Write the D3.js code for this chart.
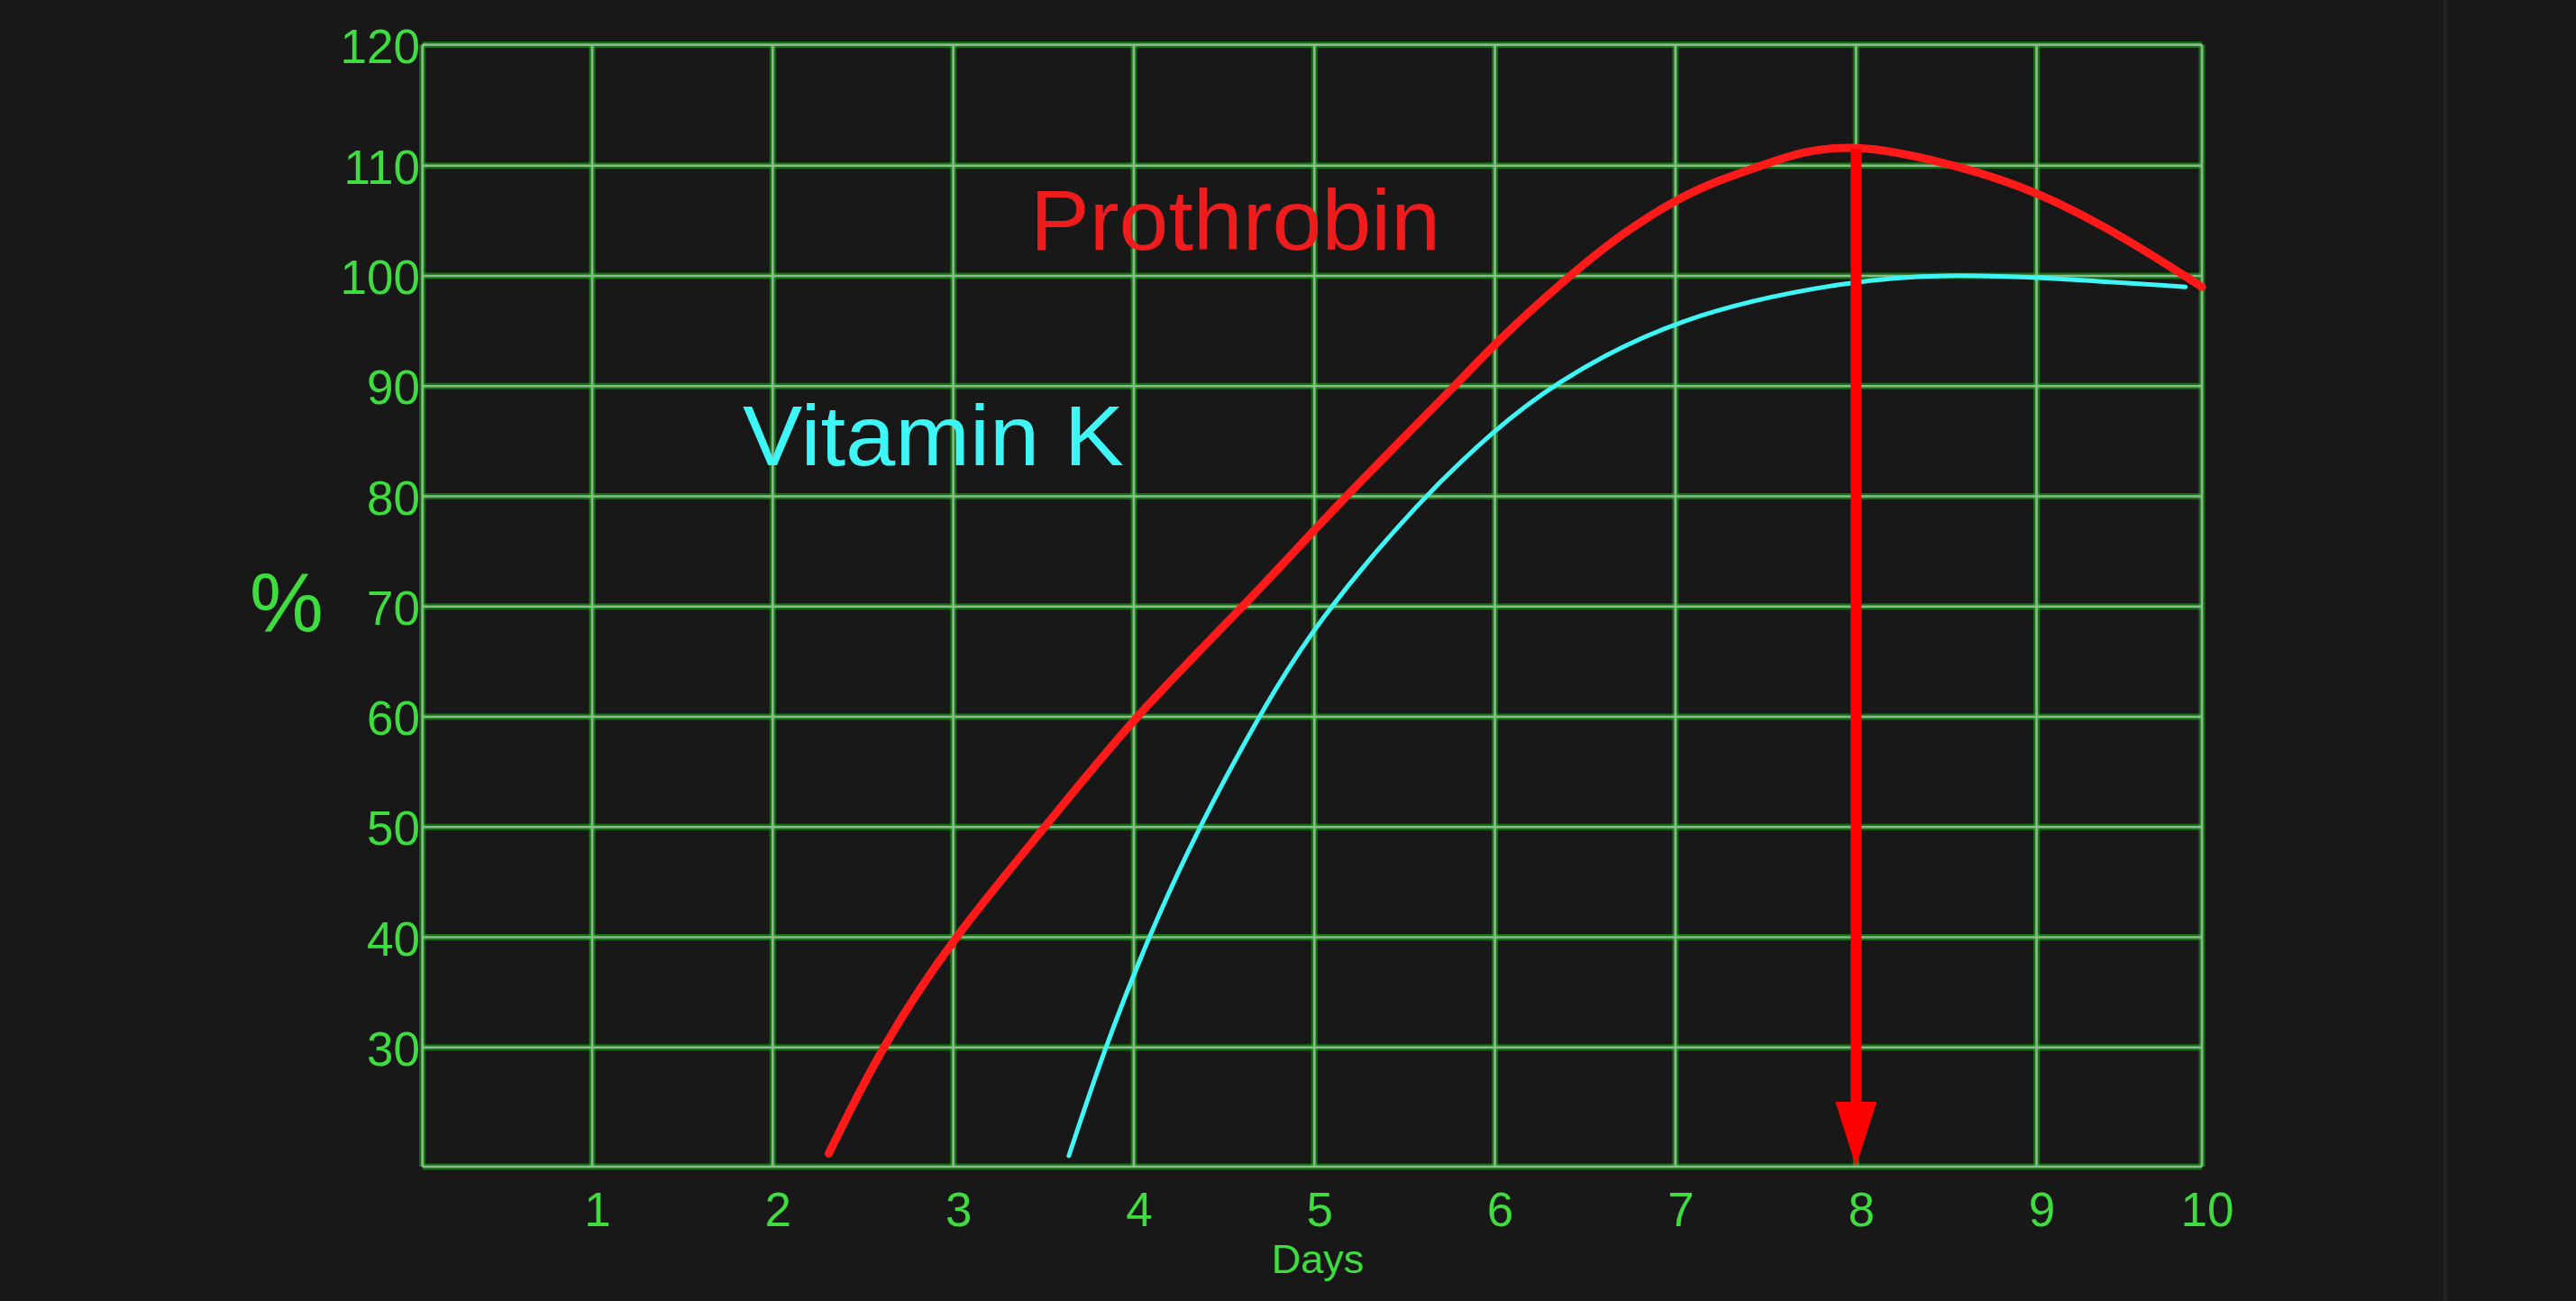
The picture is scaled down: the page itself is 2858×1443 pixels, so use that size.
<!DOCTYPE html>
<html>
<head>
  <meta charset="utf-8">
  <title>Prothrobin and Vitamin K</title>
  <script src="https://d3js.org/d3.v7.min.js"></script>
  <style>
    html, body { margin: 0; padding: 0; background: #181818; }
    svg { display: block; }
    text { font-family: "Liberation Sans", Arial, sans-serif; }
  </style>
</head>
<body>
  <script>
    // chart values
    var dayTicks = [1, 2, 3, 4, 5, 6, 7, 8, 9, 10];
    var percentTicks = [30, 40, 50, 60, 70, 80, 90, 100, 110, 120];

    // prothrobin curve: [day, %]
    var prothrobin = [
      [2.31, 20.2], [2.6, 30], [3.0, 40], [3.51, 50], [4.0, 60],
      [4.61, 70], [5.17, 80], [5.78, 90], [6.0, 93.9], [6.41, 100],
      [6.7, 103.8], [7.0, 106.9], [7.21, 108.5], [7.48, 110], [7.7, 111.2],
      [8.03, 111.8], [8.57, 110], [9.0, 107.7], [9.5, 103.8], [10.0, 99.0]
    ];

    // vitamin K curve: [day, %]
    var vitaminK = [
      [3.64, 20], [3.84, 30], [4.08, 40], [4.36, 50], [4.69, 60],
      [5.0, 68.4], [5.6, 80], [6.0, 86.0], [6.3, 90], [7.0, 96.4],
      [8.0, 99.7], [8.5, 100.1], [9.0, 99.9], [9.9, 99.0]
    ];

    // the red arrow drops from the prothrobin peak to the day axis
    var arrowDay = 8;
    var arrowFrom = 111.4;

    var width = 2858;
    var height = 1443;

    var svg = d3.select('body')
          .append('svg')
          .attr('width', width)
          .attr('height', height);

    svg.append('rect')
        .attr('width', width)
        .attr('height', height)
        .attr('fill', '#181818');

    // faint frame edge of the video on the right
    svg.append('rect')
        .attr('x', 2711)
        .attr('y', 0)
        .attr('width', 4)
        .attr('height', height)
        .attr('fill', '#232323');

    // the hand drawn grid is not quite even, so use piecewise scales
    var x = d3.scaleLinear()
          .domain([0, 1, 9, 10])
          .range([468.7, 657, 2259.5, 2443]);

    var y = d3.scaleLinear()
          .domain([19, 30, 110, 120])
          .range([1294, 1161.7, 183.7, 49.6]);

    var yMin = 19, yMax = 120;

    // grid: glow underneath, pale core on top
    var grid = svg.append('g');

    function drawGrid(cls, stroke, w, op) {
      var g = grid.append('g').attr('class', cls);
      g.selectAll('line.v')
          .data([0].concat(dayTicks))
          .enter()
          .append('line')
          .attr('x1', function (d) { return x(d); })
          .attr('x2', function (d) { return x(d); })
          .attr('y1', y(yMax))
          .attr('y2', y(yMin))
          .attr('stroke', stroke)
          .attr('stroke-width', w)
          .attr('opacity', op);
      g.selectAll('line.h')
          .data([yMin].concat(percentTicks))
          .enter()
          .append('line')
          .attr('x1', x(0))
          .attr('x2', x(10))
          .attr('y1', function (d) { return y(d); })
          .attr('y2', function (d) { return y(d); })
          .attr('stroke', stroke)
          .attr('stroke-width', w)
          .attr('opacity', op);
    }
    drawGrid('glow', '#14b814', 7, 0.55);
    drawGrid('core', '#8cba8c', 2.6, 1);

    // tick labels
    svg.append('g')
        .selectAll('text')
        .data(dayTicks)
        .enter()
        .append('text')
        .attr('x', function (d) { return x(d) + 6; })
        .attr('y', 1360)
        .attr('text-anchor', 'middle')
        .attr('font-size', 53)
        .attr('fill', '#3fdc3f')
        .text(function (d) { return d; });

    svg.append('g')
        .selectAll('text')
        .data(percentTicks)
        .enter()
        .append('text')
        .attr('x', 466)
        .attr('y', function (d) { return y(d); })
        .attr('dy', '0.38em')
        .attr('text-anchor', 'end')
        .attr('font-size', 53)
        .attr('fill', '#3fdc3f')
        .text(function (d) { return d; });

    // axis titles
    svg.append('text')
        .attr('x', 1462)
        .attr('y', 1412)
        .attr('text-anchor', 'middle')
        .attr('font-size', 45)
        .attr('fill', '#3fdc3f')
        .text('Days');

    svg.append('text')
        .attr('x', 318)
        .attr('y', 700)
        .attr('text-anchor', 'middle')
        .attr('font-size', 92)
        .attr('fill', '#3fdc3f')
        .text('%');

    // curves, smoothed through the read-off points
    var line = d3.line()
          .x(function (d) { return x(d[0]); })
          .y(function (d) { return y(d[1]); })
          .curve(d3.curveBasis);

    svg.append('path')
        .datum(vitaminK)
        .attr('fill', 'none')
        .attr('stroke', '#3ef6f6')
        .attr('stroke-width', 5)
        .attr('stroke-linecap', 'round')
        .attr('d', line);

    svg.append('path')
        .datum(prothrobin)
        .attr('fill', 'none')
        .attr('stroke', '#ff1a1a')
        .attr('stroke-width', 9)
        .attr('stroke-linecap', 'round')
        .attr('d', line);

    // arrow
    var ax = x(arrowDay);
    var tipY = y(yMin);
    var headLen = 72, headHalf = 23;

    svg.append('line')
        .attr('x1', ax)
        .attr('x2', ax)
        .attr('y1', y(arrowFrom))
        .attr('y2', tipY - headLen + 2)
        .attr('stroke', '#ff0000')
        .attr('stroke-width', 12);

    svg.append('path')
        .attr('d', d3.line()([
          [ax - headHalf, tipY - headLen],
          [ax + headHalf, tipY - headLen],
          [ax, tipY]
        ]) + 'Z')
        .attr('fill', '#ff0000');

    // curve names
    svg.append('text')
        .attr('x', 1143)
        .attr('y', 277)
        .attr('font-size', 94)
        .attr('textLength', 455)
        .attr('lengthAdjust', 'spacingAndGlyphs')
        .attr('fill', '#ee1c1c')
        .text('Prothrobin');

    svg.append('text')
        .attr('x', 824)
        .attr('y', 516)
        .attr('font-size', 94)
        .attr('textLength', 423)
        .attr('lengthAdjust', 'spacingAndGlyphs')
        .attr('fill', '#3ef6f6')
        .text('Vitamin K');
  </script>
</body>
</html>
